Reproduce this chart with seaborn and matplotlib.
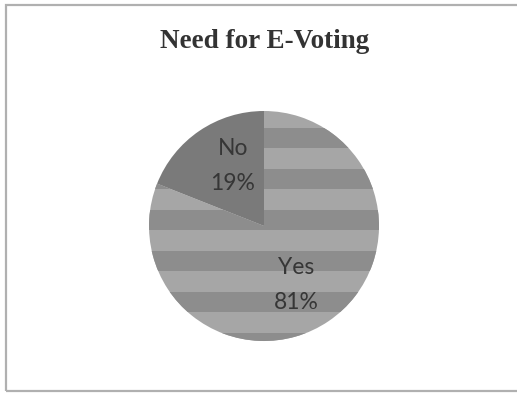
import matplotlib
matplotlib.use("Agg")
import matplotlib.pyplot as plt
from matplotlib.patches import Rectangle
import seaborn as sns

sns.set_theme(style="white")

# Survey result
categories = ["Yes", "No"]
shares = [81, 19]
title = "Need for E-Voting"

W, H = 517, 395
fig = plt.figure(figsize=(W / 100, H / 100), dpi=100)
fig.patch.set_facecolor("white")

# Pie occupies a square box centred at (264, 226) px with radius 115 px
cx, cy, r = 264, 226, 115
ax = fig.add_axes([(cx - r) / W, (H - cy - r) / H, 2 * r / W, 2 * r / H])

light, dark, slice_no = "#a6a6a6", "#8d8d8d", "#7a7a7a"
labels = [f"{c}\n{v}%" for c, v in zip(categories, shares)]
wedges, texts = ax.pie(
    shares,
    labels=labels,
    colors=[light, slice_no],
    startangle=90,
    counterclock=False,
    labeldistance=0.59,
    wedgeprops=dict(linewidth=0),
    textprops=dict(ha="center", va="center", fontsize=16.5, color="#363636",
                   family="Lato", linespacing=1.8),
)
ax.set_xlim(-1, 1)
ax.set_ylim(-1, 1)
ax.set_axis_off()

# Label placement inside each slice (best-fit style positions)
label_pos = {"Yes": (0.283, -0.513), "No": (-0.27, 0.522)}
for cat, t in zip(categories, texts):
    t.set_position(label_pos[cat])
    t.set_zorder(5)

# Horizontal banding on the "Yes" slice
band_h = 0.178
y = 0.852
while y > -1.05:
    band = Rectangle((-1.1, y - band_h), 2.2, band_h, facecolor=dark,
                     edgecolor="none", zorder=wedges[0].get_zorder() + 0.1)
    ax.add_patch(band)
    band.set_clip_path(wedges[0])
    y -= 2 * band_h

fig.text(265 / W, 1 - 48 / H, title, ha="center", va="baseline",
         fontsize=19.5, fontweight="bold", family="Liberation Serif",
         color="#333333")

# Chart frame (right edge runs past the canvas)
frame = Rectangle((5.5 / W, 4 / H), 1.2, (391 - 4.5) / H,
                  transform=fig.transFigure, facecolor="none",
                  edgecolor="#b0b0b0", linewidth=1.6)
fig.patches.append(frame)

fig.savefig("out.png", dpi=100)
